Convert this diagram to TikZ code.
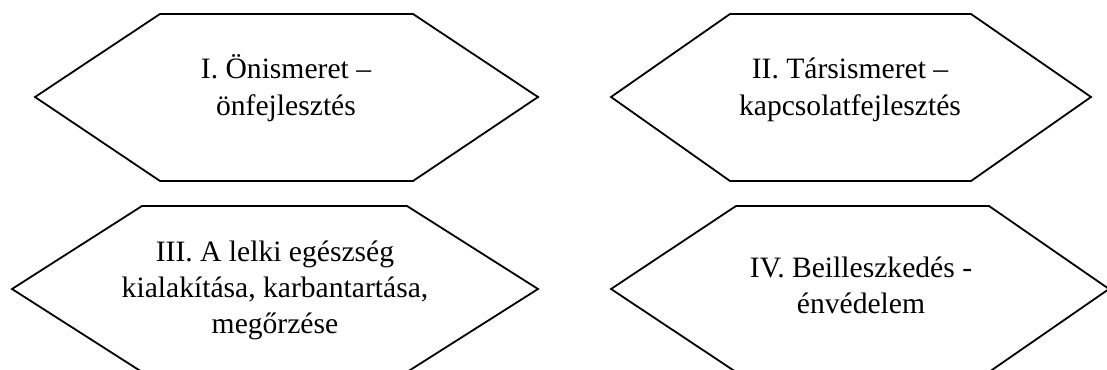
\documentclass[tikz,border=0pt]{standalone}
\usepackage{fontspec}
\setmainfont{Liberation Serif}
\usepackage{tikz}
\usetikzlibrary{positioning}

\begin{document}
\begin{tikzpicture}[x=0.5pt,y=-0.5pt,line width=0.9pt,
    hexa/.style={draw=black,line join=miter},
    hextext/.style={align=center,anchor=base,inner sep=0pt,font=\fontsize{14.8}{18}\selectfont}]
    \useasboundingbox (0,0) rectangle (1107,369);
    % upper row
    \draw[hexa] (35,97) -- (160,14) -- (413,14) -- (538,97) -- (413,181) -- (160,181) -- cycle;
    \draw[hexa] (611,97) -- (730,14) -- (971,14) -- (1091,97) -- (971,181) -- (730,181) -- cycle;
    % lower row, cut by the page edge
    \draw[hexa] (12,289) -- (142,206) -- (407,206) -- (538,289) -- (407,372) -- (142,372) -- cycle;
    \draw[hexa] (611,289) -- (736,206) -- (989,206) -- (1109,289) -- (989,372) -- (736,372) -- cycle;
    % base = last line of the text
    \node[hextext] (onismeret) at (286,115) {I. Önismeret –\\önfejlesztés};
    \node[hextext] (tarsismeret) at (850,115) {II. Társismeret –\\kapcsolatfejlesztés};
    \node[hextext] (lelki) at (275,333) {III. A lelki egészség\\kialakítása, karbantartása,\\megőrzése};
    \node[hextext] (beilleszkedes) at (861,313) {IV. Beilleszkedés -\\énvédelem};
\end{tikzpicture}
\end{document}
